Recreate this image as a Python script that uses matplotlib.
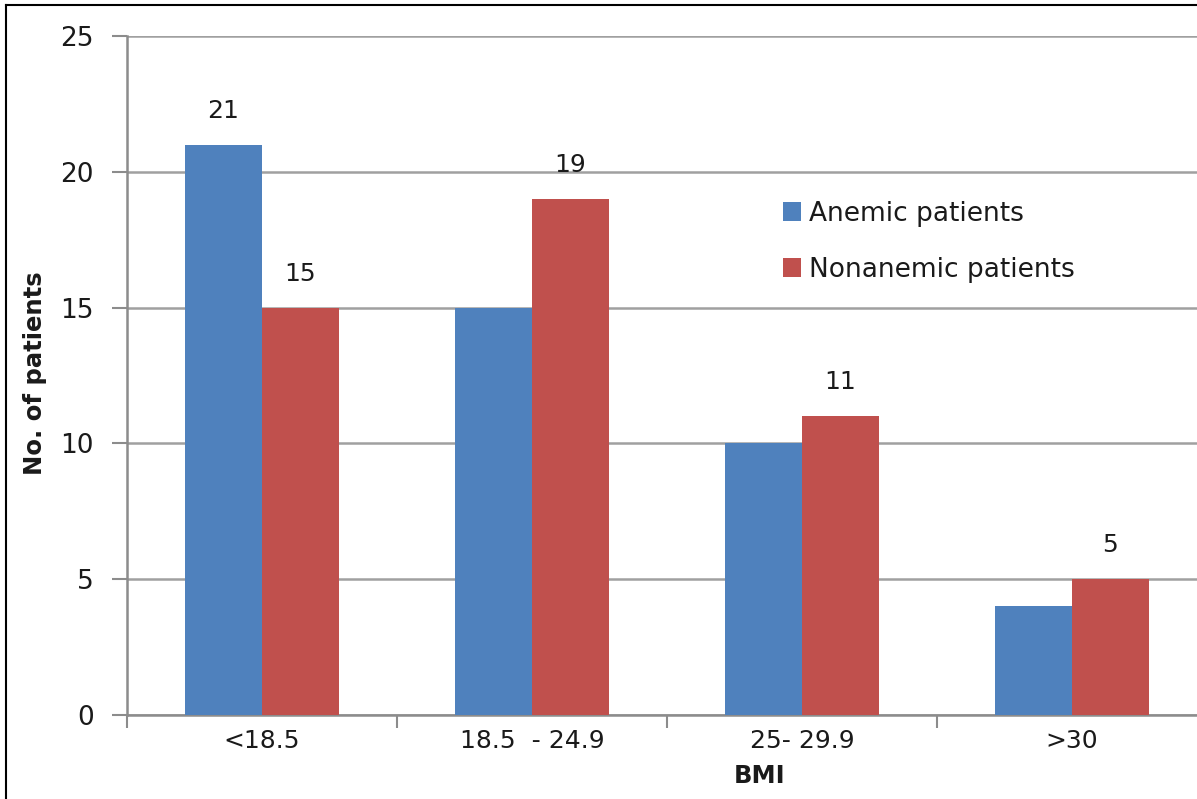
import matplotlib
matplotlib.use("Agg")
import matplotlib.pyplot as plt
import numpy as np

categories = ["<18.5", "18.5  - 24.9", "25- 29.9", ">30"]
anemic = [21, 15, 10, 4]
nonanemic = [15, 19, 11, 5]
series_names = ["Anemic patients", "Nonanemic patients"]
yticks = [0, 5, 10, 15, 20, 25]

W, H = 1197, 799
fig = plt.figure(figsize=(W / 100, H / 100), dpi=100)
plt.rcParams['font.family'] = ['DejaVu Sans']

ax_left, ax_right = 127, 1207
ax_top, ax_bottom = 36, 715
ax = fig.add_axes([ax_left / W, 1 - ax_bottom / H, (ax_right - ax_left) / W, (ax_bottom - ax_top) / H])

x = np.arange(len(categories))
bw = 0.285
blue = "#4F81BD"
red = "#C0504D"
b1 = ax.bar(x - bw / 2, anemic, bw, color=blue, label=series_names[0], zorder=3)
b2 = ax.bar(x + bw / 2, nonanemic, bw, color=red, label=series_names[1], zorder=3)

# data labels shown in the reference: 21 on the first anemic bar, all nonanemic bars
labelled = [(b1[0], anemic[0])] + list(zip(b2, nonanemic))
for rect, v in labelled:
    ax.annotate(str(v), (rect.get_x() + rect.get_width() / 2, v), xytext=(0, 24.5),
                textcoords="offset points", ha="center", va="center", fontsize=18, color="#1a1a1a")

ax.set_xlim(-0.5, len(categories) - 0.5)
ax.set_ylim(0, 25)
ax.set_yticks(yticks)
ax.set_yticklabels([str(t) for t in yticks], fontsize=19, color="#1a1a1a")
ax.yaxis.grid(True, color="#a0a0a0", linewidth=1.8, zorder=0)
ax.set_axisbelow(True)

ax.set_xticks(np.arange(len(categories) + 1) - 0.5)
ax.set_xticklabels([])
ax.set_xticks(x, minor=True)
ax.set_xticklabels(categories, minor=True, fontsize=18, color="#1a1a1a")
ax.tick_params(axis="x", which="minor", length=0, pad=10)
ax.tick_params(axis="x", which="major", length=9, width=1.5, color="#8c8c8c", direction="out")
ax.tick_params(axis="y", length=11, width=1.5, color="#8c8c8c", pad=13)

for s in ["top", "right"]:
    ax.spines[s].set_visible(False)
for s in ["left", "bottom"]:
    ax.spines[s].set_color("#8c8c8c")
    ax.spines[s].set_linewidth(1.8)

leg = ax.legend(loc="upper left", bbox_to_anchor=((772 - ax_left) / (ax_right - ax_left), 1 - (190 - ax_top) / (ax_bottom - ax_top)),
                frameon=False, fontsize=19, handlelength=0.7, handleheight=0.7,
                handletextpad=0.3, labelspacing=1.15, borderaxespad=0)
for t in leg.get_texts():
    t.set_color("#1a1a1a")

fig.text(35 / W, 1 - 373 / H, "No. of patients", rotation=90, ha="center", va="center",
         fontsize=17.5, fontweight="bold", color="#1a1a1a")
fig.text(760 / W, 1 - 776 / H, "BMI", ha="center", va="center",
         fontsize=17.5, fontweight="bold", color="#1a1a1a")

# figure border lines (left and top)
fig.add_artist(plt.Line2D([6 / W, 6 / W], [0, 1 - 5 / H], transform=fig.transFigure, color="black", linewidth=1.5))
fig.add_artist(plt.Line2D([6 / W, 1], [1 - 5 / H, 1 - 5 / H], transform=fig.transFigure, color="black", linewidth=1.5))

fig.savefig("out.png", dpi=100)
